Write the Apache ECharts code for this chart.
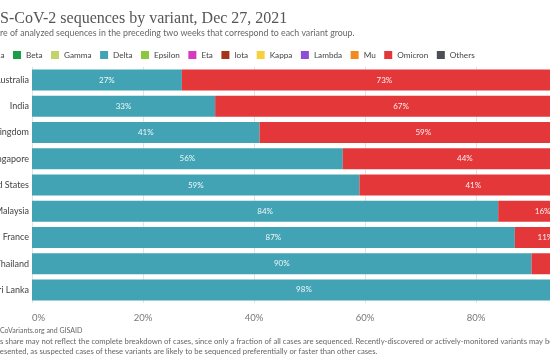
<!DOCTYPE html>
<html><head><meta charset="utf-8">
<script src="https://cdn.jsdelivr.net/npm/echarts@6/dist/echarts.min.js"></script>
<style>html,body{margin:0;padding:0;overflow:hidden;background:#fff;width:550px;height:356px}#c{position:absolute;left:0;top:0;width:600px;height:356px}</style>
</head><body><div id="c"></div>
<script>
const countries = ['Australia','India','United Kingdom','Singapore','United States','Malaysia','France','Thailand','Sri Lanka'];
const variants = ['Alpha','Beta','Gamma','Delta','Epsilon','Eta','Iota','Kappa','Lambda','Mu','Omicron','Others'];
const variantColors = ['#6a1e74','#1b9e4b','#c2d36b','#42a3b4','#8dc63f','#d63bbf','#a5341b','#f6d13e','#8b4fd8','#f28a21','#e3373a','#4c4e59'];
const delta   = [27,33,41,56,59,84,87,90,98];
const omicron = [73,67,59,44,41,16,11,10,2];
const xTicks = [0,20,40,60,80,100];

const valuesByVariant = {Delta: delta, Omicron: omicron};

const ctx = document.createElement('canvas').getContext('2d');
function tw(t, font){ ctx.font = font; return ctx.measureText(t).width; }

const titleFont = '16px "Liberation Serif"';
const subFont = '8.8px Lato';
const legFont = '8.2px Lato';
const footFont = '7.7px Lato';
const srcFont = '7px Lato';

const titleText = 'SARS-CoV-2 sequences by variant, Dec 27, 2021';
const subText = 'Share of analyzed sequences in the preceding two weeks that correspond to each variant group.';
const srcText = 'Source: CoVariants.org and GISAID';
const note1 = 'Note: This share may not reflect the complete breakdown of cases, since only a fraction of all cases are sequenced. Recently-discovered or actively-monitored variants may be';
const note2 = 'overrepresented, as suspected cases of these variants are likely to be sequenced preferentially or faster than other cases.';

function render(){
  const itemW = 8, itemGap = 8.5;
  const legendLeft = 13 - (itemGap + tw('Alpha', legFont) + 5 + itemW);
  const chart = echarts.init(document.getElementById('c'), null, {renderer:'canvas'});
  const ts = (size, fam, color) => ({fontFamily:fam, fontSize:size, fontWeight:'normal', color:color});
  chart.setOption({
    animation:false,
    title:[
      {text:titleText, padding:0, left:-tw('SAR',titleFont), top:11, textStyle:ts(16,'Liberation Serif','#555')},
      {text:subText, padding:0, left:-tw('Sha',subFont), top:29, textStyle:ts(8.8,'Lato','#666')},
      {text:srcText, padding:0, left:-tw('Source: ',srcFont), top:327, textStyle:ts(7,'Lato','#666')},
      {text:note1, padding:0, left:-tw('Note: Thi',footFont), top:338, textStyle:ts(7.7,'Lato','#666')},
      {text:note2, padding:0, left:-tw('overrepr',footFont), top:348, textStyle:ts(7.7,'Lato','#666')}
    ],
    legend:{
      padding:0, left:legendLeft, top:51, itemWidth:itemW, itemHeight:itemW, itemGap:itemGap, icon:'rect',
      textStyle:{fontFamily:'Lato', fontSize:8.2, color:'#444'},
      data:variants
    },
    grid:{left:32, right:13, top:67, bottom:53, containLabel:false, outerBoundsMode:'none'},
    xAxis:{type:'value', min:0, max:100, interval:20,
      axisLine:{show:false}, axisTick:{show:false},
      splitLine:{lineStyle:{color:'#e3e3e3'}},
      axisLabel:{formatter:v=>v+'%', fontFamily:'Lato', fontSize:9.5, color:'#777', margin:10, alignMinLabel:'left'}
    },
    yAxis:{type:'category', data:countries, inverse:true,
      axisLine:{show:false}, axisTick:{show:false},
      axisLabel:{fontFamily:'Lato', fontSize:9, color:'#444', margin:3}
    },
    series: variants.map((v,i)=>({
      name:v, type:'bar', stack:'s', barCategoryGap:'20%',
      itemStyle:{color:variantColors[i]},
      label:{show:true, position:'inside', formatter:p=>p.value>=5?p.value+'%':'', color:'rgba(255,255,255,0.92)', fontFamily:'Lato', fontSize:8},
      data: valuesByVariant[v] || []
    }))
  });
}
const fontLoads = [document.fonts.load('9px Lato'), document.fonts.load('16px "Liberation Serif"')];
Promise.all(fontLoads).then(render, render);
</script></body></html>
